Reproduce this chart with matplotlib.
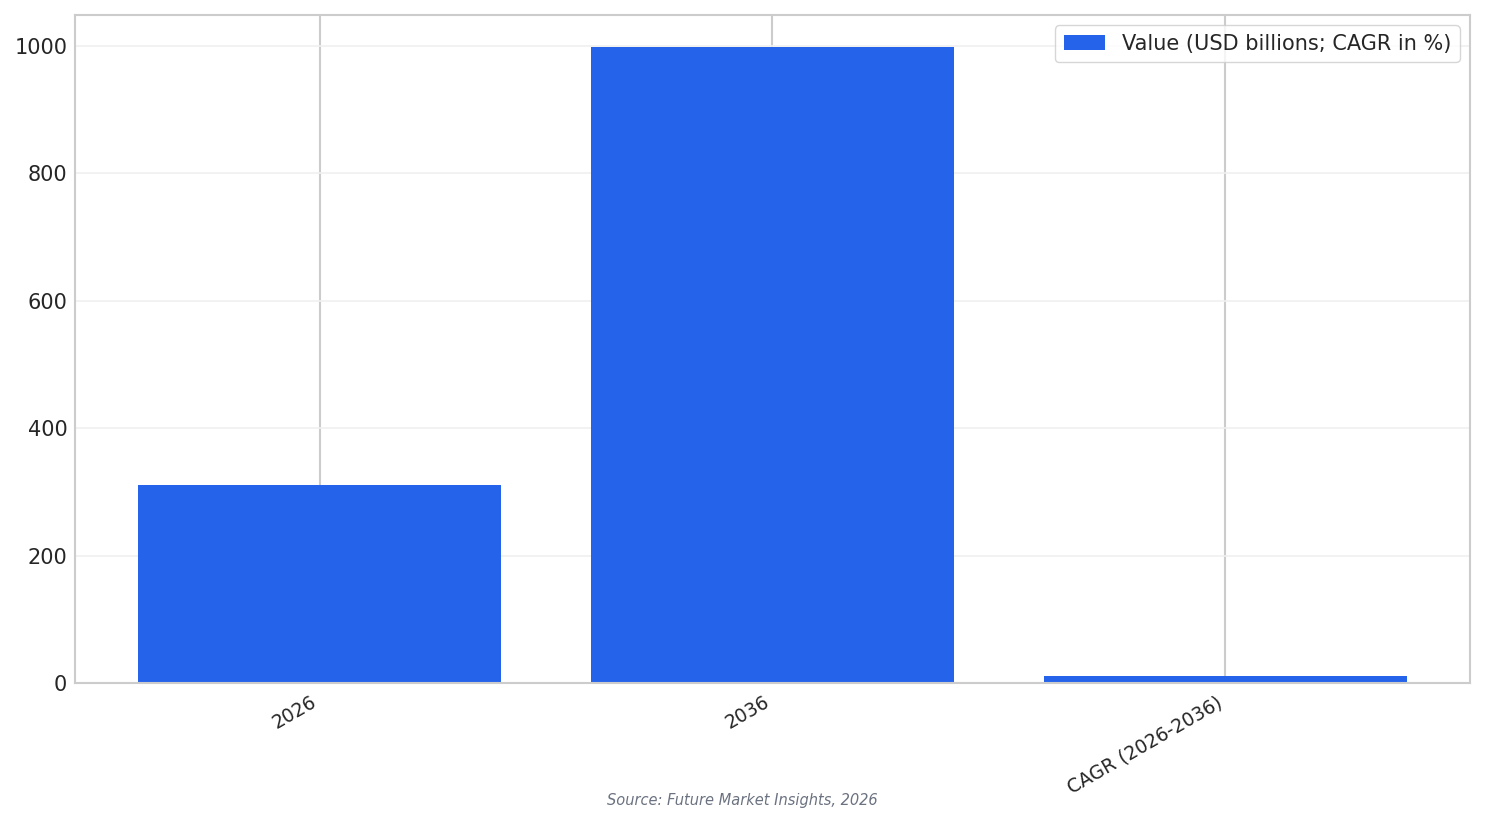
import numpy as np
import matplotlib.pyplot as plt
import seaborn as sns

# datos
categorias = ["2026", "2036", "CAGR (2026-2036)"]
valores = [311.0, 998.0, 11.5]
etiqueta_serie = "Value (USD billions; CAGR in %)"
fuente = "Source: Future Market Insights, 2026"

sns.set_style("whitegrid")
plt.rcParams['font.family'] = ['DejaVu Sans']

fig, ax = plt.subplots(figsize=(14.85, 8.24), dpi=100)
fig.subplots_adjust(left=0.0505, right=0.9899, top=0.9818, bottom=0.1711)

x = np.arange(len(categorias))
ax.bar(x, valores, width=0.8, color='#2563EB', label=etiqueta_serie,
       linewidth=0, zorder=2)

ax.set_xticks(x)
ax.set_xticklabels(categorias, rotation=30, ha='right', fontsize=13.5, color='#262626')
ax.tick_params(axis='y', labelsize=15, colors='#262626', length=0, pad=5.5)
ax.set_yticks([0, 200, 400, 600, 800, 1000])

ax.grid(axis='x', color='#cccccc', lw=1.5)
ax.grid(axis='y', color='#f0f0f0', lw=1.2)
for s in ax.spines.values():
    s.set_color('#cccccc')
    s.set_linewidth(1.5)

leg = ax.legend(loc='upper right', fontsize=15, frameon=True)
leg.get_frame().set_edgecolor('#cccccc')

fig.text(0.5, 0.028, fuente, ha='center', va='center', fontsize=10.5,
         style='italic', color='#6b7280')

plt.savefig('out.png', dpi=100)
